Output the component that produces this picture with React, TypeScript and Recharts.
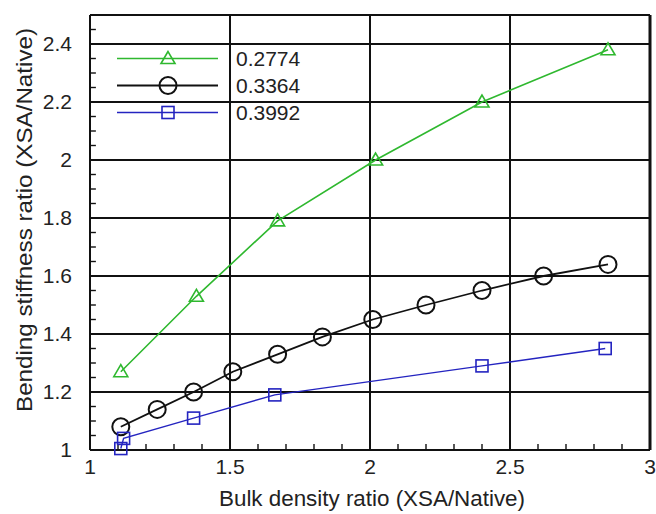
import { ComposedChart, Legend, Line, ReferenceLine, XAxis, YAxis } from "recharts";

// series
const greenX = [1.11, 1.38, 1.67, 2.02, 2.4, 2.85];
const greenY = [1.27, 1.53, 1.79, 2.0, 2.2, 2.38];

const blackX = [1.11, 1.24, 1.37, 1.51, 1.67, 1.83, 2.01, 2.2, 2.4, 2.62, 2.85];
const blackY = [1.08, 1.14, 1.2, 1.27, 1.33, 1.39, 1.45, 1.5, 1.55, 1.6, 1.64];

const blueX = [1.11, 1.12, 1.37, 1.66, 2.4, 2.84];
const blueY = [1.005, 1.04, 1.11, 1.19, 1.29, 1.35];

const seriesNames = ["0.2774", "0.3364", "0.3992"];

const xMajor = [1, 1.5, 2, 2.5, 3];
const xMinor = [1.1, 1.2, 1.3, 1.4, 1.6, 1.7, 1.8, 1.9, 2.1, 2.2, 2.3, 2.4, 2.6, 2.7, 2.8, 2.9];
const yMajor = [1, 1.2, 1.4, 1.6, 1.8, 2, 2.2, 2.4];
const yMinor = [
  1.05, 1.1, 1.15, 1.25, 1.3, 1.35, 1.45, 1.5, 1.55, 1.65, 1.7, 1.75,
  1.85, 1.9, 1.95, 2.05, 2.1, 2.15, 2.25, 2.3, 2.35, 2.45,
];

const zip = (xs: number[], ys: number[]) => xs.map((x, i) => ({ x, y: ys[i] }));

const GREEN = "#2fb82f";
const BLACK = "#111111";
const BLUE = "#2424c0";
const TEXT = "#222";
const FONT = "'Liberation Sans', Arial, sans-serif";
const TICK_FONT = 21;

// inward minor tick length in axis units (about 6px)
const TICK_LEN = 0.021;

const Triangle = ({ cx, cy, stroke }: any) => (
  <polygon
    points={`${cx},${cy - 7} ${cx - 7},${cy + 5} ${cx + 7},${cy + 5}`}
    fill="none"
    stroke={stroke}
    strokeWidth={1.6}
  />
);
const Circle = ({ cx, cy, stroke }: any) => (
  <circle cx={cx} cy={cy} r={8.5} fill="none" stroke={stroke} strokeWidth={2} />
);
const Square = ({ cx, cy, stroke }: any) => (
  <rect x={cx - 6} y={cy - 6} width={12} height={12} fill="none" stroke={stroke} strokeWidth={1.6} />
);

const series = [
  { name: seriesNames[0], data: zip(greenX, greenY), color: GREEN, Mark: Triangle, width: 1.6 },
  { name: seriesNames[1], data: zip(blackX, blackY), color: BLACK, Mark: Circle, width: 1.8 },
  { name: seriesNames[2], data: zip(blueX, blueY), color: BLUE, Mark: Square, width: 1.4 },
];

// each minor tick is a two-point line on the frame
const minorTicks = [
  ...xMinor.map((x) => ({ id: `x${x}`, data: [{ x, y: 1 }, { x, y: 1 + TICK_LEN }] })),
  ...yMinor.map((y) => ({ id: `y${y}`, data: [{ x: 1, y }, { x: 1 + TICK_LEN, y }] })),
];

function LegendBox() {
  return (
    <div style={{ fontFamily: FONT, fontSize: 21, color: TEXT }}>
      {series.map((s) => (
        <div key={s.name} style={{ display: "flex", alignItems: "center", height: 27 }}>
          <svg width={101} height={27}>
            <line x1={0} y1={13.5} x2={101} y2={13.5} stroke={s.color} strokeWidth={s.width} />
            <s.Mark cx={51} cy={13.5} stroke={s.color} />
          </svg>
          <span style={{ marginLeft: 18 }}>{s.name}</span>
        </div>
      ))}
    </div>
  );
}

export default function App() {
  return (
    <div style={{ position: "absolute", left: 0, top: 0, background: "#fff" }}>
      <ComposedChart
        width={656}
        height={514}
        margin={{ top: 15, right: 6, bottom: 0, left: 0 }}
        style={{ fontFamily: FONT }}
      >
        <XAxis
          type="number"
          dataKey="x"
          domain={[1, 3]}
          ticks={xMajor}
          interval={0}
          axisLine={false}
          tickLine={false}
          tickSize={0}
          tickMargin={9}
          height={64}
          tick={{ fill: TEXT, fontSize: TICK_FONT }}
          label={{
            content: () => (
              <text
                x={372}
                y={498}
                textAnchor="middle"
                dominantBaseline="central"
                fill={TEXT}
                fontSize={22}
                textLength={306}
                lengthAdjust="spacingAndGlyphs"
              >
                Bulk density ratio (XSA/Native)
              </text>
            ),
          }}
        />
        <YAxis
          type="number"
          dataKey="y"
          domain={[1, 2.5]}
          ticks={yMajor}
          interval={0}
          axisLine={false}
          tickLine={false}
          tickSize={0}
          tickMargin={18}
          width={90}
          tick={{ fill: TEXT, fontSize: TICK_FONT }}
          label={{
            content: () => (
              <text
                x={24}
                y={220}
                transform="rotate(-90 24 220)"
                textAnchor="middle"
                dominantBaseline="central"
                fill={TEXT}
                fontSize={22}
                textLength={384}
                lengthAdjust="spacingAndGlyphs"
              >
                Bending stiffness ratio (XSA/Native)
              </text>
            ),
          }}
        />
        {yMajor.slice(1).map((v) => (
          <ReferenceLine key={`h${v}`} y={v} stroke={BLACK} strokeWidth={2} />
        ))}
        {xMajor.slice(1, -1).map((v) => (
          <ReferenceLine key={`v${v}`} x={v} stroke={BLACK} strokeWidth={2} />
        ))}
        <ReferenceLine y={1} stroke={BLACK} strokeWidth={2} />
        <ReferenceLine y={2.5} stroke={BLACK} strokeWidth={2} />
        <ReferenceLine x={1} stroke={BLACK} strokeWidth={2} />
        <ReferenceLine x={3} stroke={BLACK} strokeWidth={3} />
        {minorTicks.map((t) => (
          <Line
            key={t.id}
            data={t.data}
            dataKey="y"
            type="linear"
            stroke={BLACK}
            strokeWidth={1.4}
            dot={false}
            activeDot={false}
            legendType="none"
            isAnimationActive={false}
          />
        ))}
        {series.map((s) => (
          <Line
            key={s.name}
            name={s.name}
            data={s.data}
            dataKey="y"
            type="linear"
            stroke={s.color}
            strokeWidth={s.width}
            dot={(p: any) => <s.Mark key={`${s.name}-${p.index}`} cx={p.cx} cy={p.cy} stroke={s.color} />}
            activeDot={false}
            isAnimationActive={false}
          />
        ))}
        <Legend
          layout="vertical"
          align="center"
          verticalAlign="middle"
          content={() => <LegendBox />}
          wrapperStyle={{ left: 117, top: 45, width: "auto" }}
        />
      </ComposedChart>
    </div>
  );
}
